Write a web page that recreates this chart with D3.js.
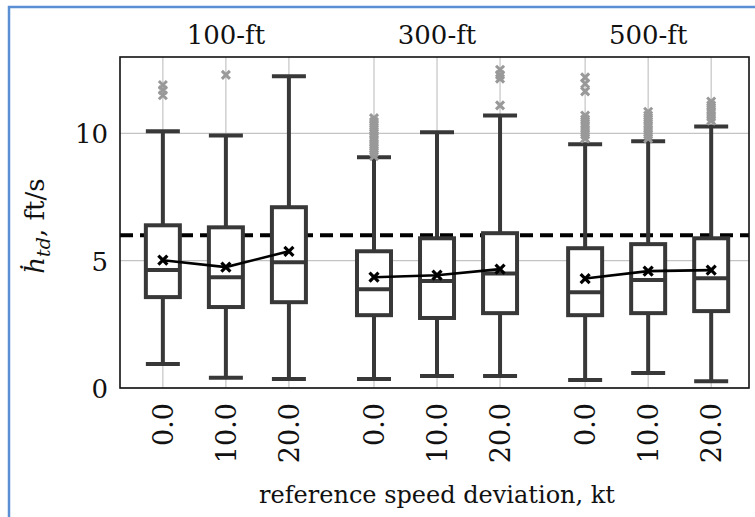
<!DOCTYPE html>
<html lang="en">
<head>
  <meta charset="UTF-8">
  <title>Touchdown sink rate</title>
  <style>
    * {box-sizing: border-box;}
    html, body {
      margin: 0;
      padding: 0;
      background: #fff;
    }
  </style>
</head>
<body>
  <svg id="chart"></svg>

  <script src="https://cdn.jsdelivr.net/npm/d3@7"></script>
  <script>
    // data
    const groups = ['100-ft', '300-ft', '500-ft']
    const speeds = ['0.0', '10.0', '20.0']
    const whiskerLow = [0.94, 0.40, 0.35, 0.35, 0.47, 0.47, 0.31, 0.59, 0.27]
    const q1 = [3.57, 3.18, 3.37, 2.86, 2.75, 2.94, 2.86, 2.94, 3.02]
    const median = [4.63, 4.35, 4.94, 3.88, 4.20, 4.50, 3.76, 4.24, 4.31]
    const q3 = [6.39, 6.31, 7.10, 5.37, 5.88, 6.08, 5.49, 5.65, 5.88]
    const whiskerHigh = [10.08, 9.92, 12.24, 9.06, 10.04, 10.70, 9.57, 9.69, 10.27]
    const means = [5.02, 4.75, 5.37, 4.35, 4.43, 4.67, 4.30, 4.59, 4.63]
    const outliers = [
      [11.5, 11.7, 11.9],
      [12.3],
      [],
      [9.1, 9.25, 9.4, 9.55, 9.7, 9.85, 10.0, 10.15, 10.3, 10.45, 10.6],
      [],
      [11.1, 12.15, 12.3, 12.5],
      [9.8, 9.95, 10.1, 10.25, 10.4, 10.55, 10.7, 11.65, 11.95, 12.2],
      [9.8, 9.95, 10.1, 10.25, 10.4, 10.55, 10.7, 10.85],
      [10.5, 10.65, 10.8, 10.95, 11.1, 11.25]
    ]
    const yTicks = [0, 5, 10]
    const limit = 6

    const width = 755, height = 517
    const plotL = 120, plotR = 749, plotT = 57, plotB = 388
    const groupStep = 3.35
    const serif = "'DejaVu Serif', 'Liberation Serif', Tinos, 'Noto Serif', FreeSerif, 'Times New Roman', Times, serif"

    const boxes = []
    groups.forEach((g, gi) => speeds.forEach((s, si) => {
      const i = gi * speeds.length + si
      boxes.push({
        group: gi, speed: s, pos: gi * groupStep + si,
        lo: whiskerLow[i], q1: q1[i], med: median[i], q3: q3[i],
        hi: whiskerHigh[i], mean: means[i], out: outliers[i]
      })
    }))

    const svg = d3.select('#chart')
      .attr('width', width)
      .attr('height', height)
      .style('font-family', serif)

    const x = d3.scaleLinear().domain([-0.68, 2 * groupStep + 2 + 0.6]).range([plotL, plotR])
    const y = d3.scaleLinear().domain([0, 13]).range([plotB, plotT])
    const bw = 34

    // frame of the screenshot
    svg.append('path')
      .attr('d', `M9,${height} L9,7 L${width},7`)
      .attr('fill', 'none').attr('stroke', '#5b8fd3').attr('stroke-width', 2.5)

    // grid
    svg.append('g').selectAll('line').data(yTicks).join('line')
      .attr('x1', plotL).attr('x2', plotR)
      .attr('y1', d => y(d)).attr('y2', d => y(d))
      .attr('stroke', '#c4c4c4').attr('stroke-width', 1.2)
    svg.append('g').selectAll('line').data(boxes).join('line')
      .attr('x1', d => x(d.pos)).attr('x2', d => x(d.pos))
      .attr('y1', plotT).attr('y2', plotB)
      .attr('stroke', '#c4c4c4').attr('stroke-width', 1.2)

    // reference line
    svg.append('line')
      .attr('x1', plotL).attr('x2', plotR)
      .attr('y1', y(limit)).attr('y2', y(limit))
      .attr('stroke', '#000').attr('stroke-width', 4)
      .attr('stroke-dasharray', '13,7')

    const dark = '#383838'
    const bx = svg.append('g').selectAll('g').data(boxes).join('g')

    // whiskers
    bx.append('line')
      .attr('x1', d => x(d.pos)).attr('x2', d => x(d.pos))
      .attr('y1', d => y(d.q3)).attr('y2', d => y(d.hi))
      .attr('stroke', dark).attr('stroke-width', 4)
    bx.append('line')
      .attr('x1', d => x(d.pos)).attr('x2', d => x(d.pos))
      .attr('y1', d => y(d.q1)).attr('y2', d => y(d.lo))
      .attr('stroke', dark).attr('stroke-width', 4)
    bx.append('line')
      .attr('x1', d => x(d.pos) - bw / 2).attr('x2', d => x(d.pos) + bw / 2)
      .attr('y1', d => y(d.hi)).attr('y2', d => y(d.hi))
      .attr('stroke', dark).attr('stroke-width', 4)
    bx.append('line')
      .attr('x1', d => x(d.pos) - bw / 2).attr('x2', d => x(d.pos) + bw / 2)
      .attr('y1', d => y(d.lo)).attr('y2', d => y(d.lo))
      .attr('stroke', dark).attr('stroke-width', 4)

    // boxes
    bx.append('rect')
      .attr('x', d => x(d.pos) - bw / 2)
      .attr('width', bw)
      .attr('y', d => y(d.q3))
      .attr('height', d => y(d.q1) - y(d.q3))
      .attr('fill', '#fff').attr('stroke', dark).attr('stroke-width', 4)
    bx.append('line')
      .attr('x1', d => x(d.pos) - bw / 2).attr('x2', d => x(d.pos) + bw / 2)
      .attr('y1', d => y(d.med)).attr('y2', d => y(d.med))
      .attr('stroke', dark).attr('stroke-width', 4)

    // outliers
    const cross = (s) => `M${-s},${-s}L${s},${s}M${-s},${s}L${s},${-s}`
    bx.selectAll('path.out').data(d => d.out.map(v => ({pos: d.pos, v}))).join('path')
      .attr('class', 'out')
      .attr('transform', d => `translate(${x(d.pos)},${y(d.v)})`)
      .attr('d', cross(4))
      .attr('stroke', '#999').attr('stroke-width', 3).attr('fill', 'none')

    // mean lines per group
    const line = d3.line().x(d => x(d.pos)).y(d => y(d.mean))
    svg.append('g').selectAll('path').data(d3.groups(boxes, d => d.group)).join('path')
      .attr('d', d => line(d[1]))
      .attr('fill', 'none').attr('stroke', '#000').attr('stroke-width', 2.6)
    svg.append('g').selectAll('path').data(boxes).join('path')
      .attr('transform', d => `translate(${x(d.pos)},${y(d.mean)})`)
      .attr('d', cross(4.5))
      .attr('stroke', '#000').attr('stroke-width', 3.2).attr('fill', 'none')

    // plot frame
    svg.append('rect')
      .attr('x', plotL).attr('y', plotT)
      .attr('width', plotR - plotL).attr('height', plotB - plotT)
      .attr('fill', 'none').attr('stroke', '#111').attr('stroke-width', 1.6)

    const txt = (sel) => sel.style('font-family', serif).attr('fill', '#111')

    // group titles
    svg.append('g').selectAll('text').data(groups).join('text')
      .call(txt)
      .attr('x', (d, i) => x(i * groupStep + 1))
      .attr('y', 44)
      .attr('text-anchor', 'middle')
      .attr('font-size', 26)
      .text(d => d)

    // y tick labels
    svg.append('g').selectAll('text').data(yTicks).join('text')
      .call(txt)
      .attr('x', 108)
      .attr('y', d => y(d) + 10)
      .attr('text-anchor', 'end')
      .attr('font-size', 26)
      .text(d => d)

    // x tick labels
    svg.append('g').selectAll('text').data(boxes).join('text')
      .call(txt)
      .attr('transform', d => `translate(${x(d.pos) + 10},403) rotate(-90)`)
      .attr('text-anchor', 'end')
      .attr('font-size', 27)
      .text(d => d.speed)

    // axis titles
    svg.append('text')
      .call(txt)
      .attr('x', 437).attr('y', 503)
      .attr('text-anchor', 'middle')
      .attr('font-size', 24)
      .text('reference speed deviation, kt')

    const yl = svg.append('text')
      .call(txt)
      .attr('transform', 'translate(44,226) rotate(-90)')
      .attr('text-anchor', 'middle')
      .attr('font-size', 26)
    yl.append('tspan').attr('font-style', 'italic').text('\u1E23')
    yl.append('tspan').attr('font-style', 'italic').attr('font-size', 19).attr('dy', 6).text('td')
    yl.append('tspan').attr('dy', -6).text(', ft/s')
  </script>
</body>
</html>
